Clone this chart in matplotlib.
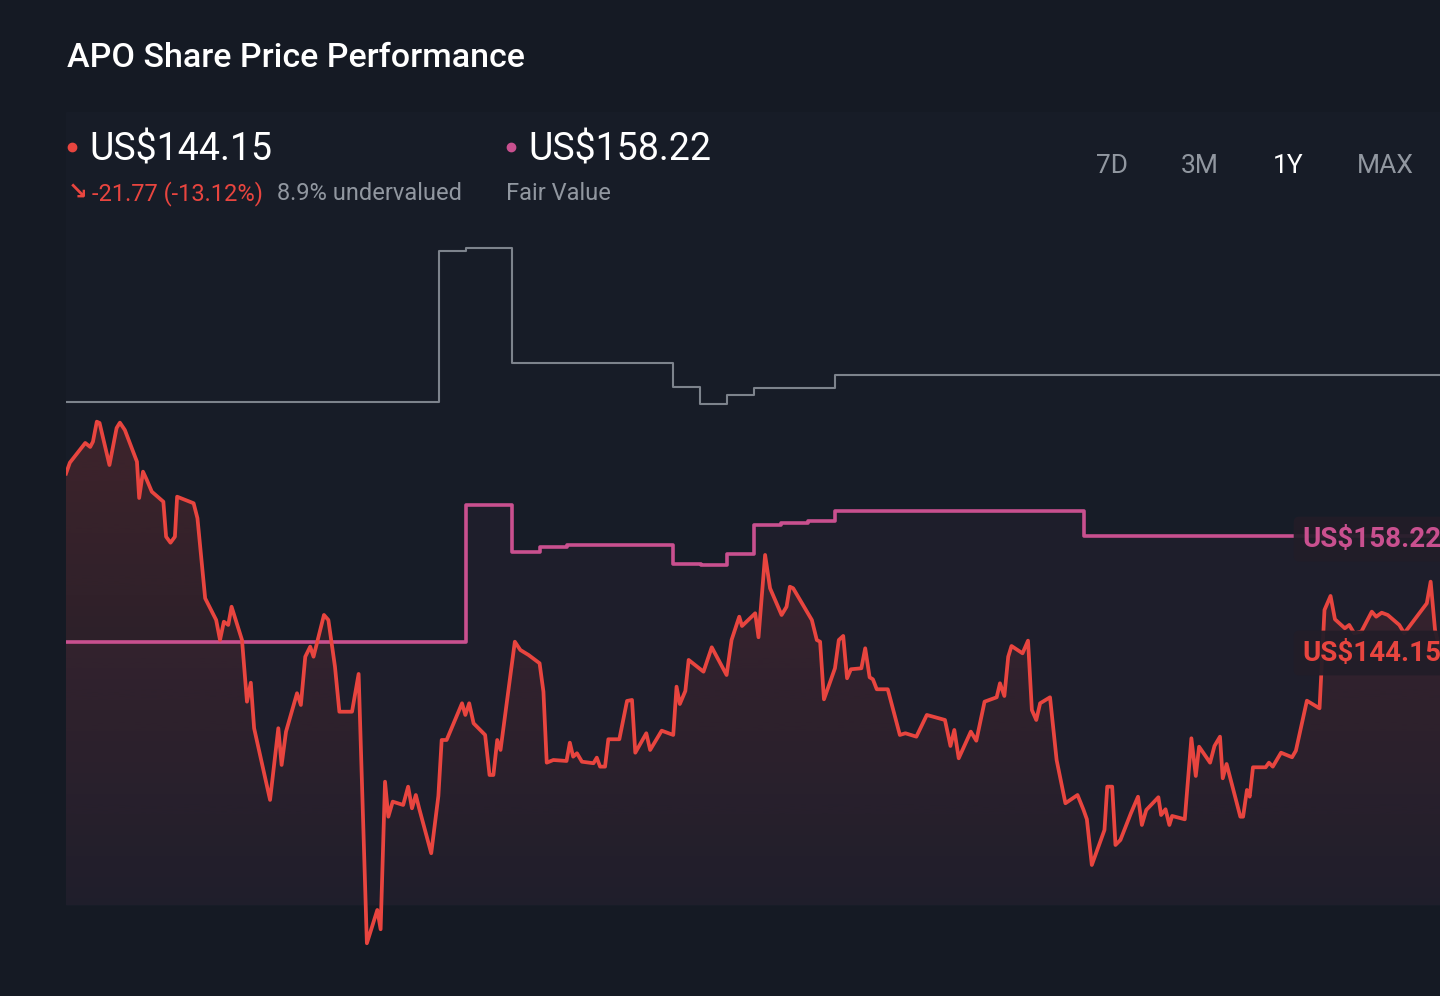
import numpy as np
import matplotlib
matplotlib.use("Agg")
import matplotlib.pyplot as plt
import matplotlib.transforms as mtransforms
from matplotlib.patches import Polygon, Rectangle
from matplotlib.lines import Line2D
from matplotlib.colors import to_rgb

plt.rcParams['font.family'] = ['Roboto', 'DejaVu Sans']

# share price (trading day index, US$)
days = [0, 0.7, 3.5, 4.4, 4.9, 5.6, 6.1, 7.9, 9.2, 9.8,
        10.7, 12.9, 13.3, 14.0, 14.7, 15.6, 17.7, 18.2, 19.0, 19.8,
        20.2, 23.2, 23.9, 25.3, 27.3, 28.0, 28.7, 29.5, 30.1, 32.0,
        32.9, 33.6, 34.2, 37.1, 38.6, 39.2, 40.0, 42.0, 42.7, 43.5,
        44.4, 45.0, 46.9, 47.7, 48.9, 49.7, 52.0, 53.2, 54.7, 56.6,
        57.2, 58.0, 58.6, 59.4, 61.3, 62.2, 62.9, 63.6, 64.2, 66.4,
        67.7, 68.3, 69.2, 72.0, 72.6, 73.3, 74.1, 76.2, 77.0, 77.7,
        78.4, 79.0, 81.6, 82.6, 84.1, 86.1, 86.8, 87.4, 88.6, 91.0,
        91.6, 92.2, 92.9, 93.8, 95.9, 96.5, 97.1, 98.0, 98.6, 100.6,
        102.0, 102.9, 103.5, 105.5, 106.2, 108.3, 110.4, 111.0, 111.6, 112.6,
        113.2, 115.9, 117.4, 120.1, 121.0, 122.4, 122.9, 125.3, 125.9, 127.1,
        128.0, 130.1, 131.0, 131.6, 132.2, 135.6, 136.5, 137.1, 137.8, 139.8,
        140.5, 141.3, 142.0, 142.7, 144.6, 145.3, 146.1, 146.7, 147.4, 149.4,
        151.6, 152.6, 154.6, 156.5, 159.8, 160.8, 161.5, 162.3, 164.5, 165.5,
        167.0, 169.2, 169.8, 170.6, 171.3, 171.9, 173.9, 174.9, 175.6, 176.4,
        177.1, 178.9, 180.1, 181.7, 183.9, 185.0, 185.6, 186.5, 188.8, 189.3,
        190.2, 190.8, 191.7, 193.6, 194.9, 195.6, 196.4, 198.6, 199.1, 199.9,
        200.6, 201.1, 203.4, 204.6, 205.4, 206.0, 208.0, 208.8, 209.8, 210.3,
        211.0, 213.5, 214.0, 214.7, 215.2, 215.8, 218.1, 218.7, 219.4, 220.9,
        222.9, 223.6, 225.6, 227.9, 228.8, 229.9, 230.7, 232.5, 233.3, 234.2,
        235.5, 237.4, 238.2, 239.2, 240.3, 242.4, 243.3, 247.4, 248.1, 248.9,
        249.8]
prices = [165.92, 167.27, 169.70, 169.21, 169.86, 172.33, 172.17, 166.98, 171.55, 172.21,
          171.30, 167.39, 162.91, 166.16, 165.13, 163.69, 162.45, 158.13, 157.39, 158.13,
          163.07, 162.26, 160.41, 150.53, 147.85, 145.38, 147.64, 147.24, 149.49, 145.38,
          137.77, 140.11, 134.49, 125.64, 134.49, 129.96, 134.07, 138.81, 137.36, 143.32,
          144.56, 143.32, 148.47, 147.85, 142.09, 136.53, 136.53, 141.19, 107.95, 112.06,
          109.68, 127.89, 123.57, 125.43, 125.02, 127.28, 124.61, 126.25, 124.61, 119.06,
          126.13, 133.04, 133.04, 137.57, 136.13, 137.57, 135.10, 133.66, 128.72, 128.72,
          133.04, 131.81, 145.17, 144.15, 143.53, 142.51, 139.00, 130.24, 130.57, 130.45,
          132.71, 130.98, 131.40, 130.36, 130.17, 130.86, 129.75, 129.75, 133.13, 133.13,
          137.86, 137.98, 131.47, 133.87, 131.81, 134.19, 133.66, 139.62, 137.48, 139.09,
          142.92, 141.47, 144.48, 141.06, 145.38, 148.26, 147.11, 148.68, 145.72, 155.88,
          151.77, 148.47, 149.49, 151.96, 151.77, 147.85, 145.38, 145.17, 138.06, 141.89,
          145.38, 145.88, 140.66, 141.77, 141.89, 144.36, 140.78, 140.53, 139.30, 139.30,
          133.66, 133.87, 133.45, 136.13, 135.51, 132.30, 134.28, 130.78, 134.07, 132.95,
          137.77, 138.31, 140.04, 138.47, 143.32, 144.64, 143.74, 145.30, 136.74, 135.51,
          137.57, 138.31, 130.57, 125.23, 126.25, 124.40, 123.25, 117.61, 121.93, 127.28,
          127.28, 120.08, 120.70, 123.99, 126.04, 122.55, 124.40, 125.97, 123.78, 124.49,
          122.55, 123.66, 123.25, 133.25, 128.60, 132.21, 130.24, 132.30, 133.45, 128.31,
          130.08, 123.57, 123.57, 126.87, 126.04, 129.67, 129.67, 130.24, 129.75, 131.47,
          130.91, 131.72, 137.89, 136.95, 149.09, 150.82, 147.94, 146.83, 147.24, 146.21,
          146.41, 148.88, 148.26, 148.75, 148.47, 147.24, 146.21, 149.91, 152.58, 146.62,
          144.15]

# fair value estimate (steps)
fv_days = [0, 72.7, 81.0, 86.1, 91.0, 110.4, 115.5, 120.2, 125.1, 129.9, 134.9, 139.8, 185.1, 249.8]
fv_vals = [145.14, 162.01, 156.28, 156.90, 157.07, 154.77, 154.60, 156.00, 159.62, 159.79,
           160.07, 161.34, 158.22, 158.22]

# upper grey line (steps)
hi_days = [0, 67.9, 72.7, 81.1, 110.4, 115.3, 120.2, 125.1, 139.8, 249.8]
hi_vals = [174.76, 193.44, 193.81, 179.54, 176.58, 174.48, 175.63, 176.49, 178.09, 178.09]

ticker = "APO"
change = -21.77
change_pct = -13.12
undervalued = 8.9
periods = ["7D", "3M", "1Y", "MAX"]
active_period = "1Y"

BG = '#151a24'
PANEL = '#171c27'
RED = '#e8453f'
PINK = '#c9508f'
GREY = '#7d838c'
TXT_GREY = '#9197a0'

W, H = 1440, 996
fig = plt.figure(figsize=(W / 100, H / 100), dpi=100, facecolor=BG)


def fx(x):
    return x / W


def fy(y):
    return 1 - y / H


fig.patches.append(Rectangle((fx(66), fy(905)), fx(W - 66), (905 - 112) / H,
                             transform=fig.transFigure, color=PANEL, zorder=-5))

ax = fig.add_axes([fx(66), fy(955), fx(W - 66), (955 - 215) / H])
ax.set_facecolor('none')
ax.set_zorder(1)
ymin, ymax = 106.5, 197.84
y_lo = 112.7

# gradient under the price line
yy = np.linspace(ymin, ymax, 400)
alpha = np.clip((yy - 109.6) / (168.8 - 109.6), 0, 1.1) * 0.18
rgba = np.zeros((400, 1, 4))
rgba[..., :3] = to_rgb(RED)
rgba[..., 3] = alpha[:, None]
im = ax.imshow(rgba, extent=[0, days[-1], ymin, ymax], origin='lower',
               aspect='auto', zorder=1, interpolation='bilinear')
clip = Polygon(np.column_stack([np.r_[days[0], days, days[-1]],
                                np.r_[y_lo, prices, y_lo]]),
               closed=True, fc='none', ec='none', transform=ax.transData)
ax.add_patch(clip)
im.set_clip_path(clip)

ax.fill_between(fv_days, fv_vals, y_lo, step='post', color=PINK, alpha=0.045, lw=0, zorder=1)

ax.step(hi_days, hi_vals, where='post', color=GREY, lw=1.5, zorder=2)
ax.step(fv_days, fv_vals, where='post', color=PINK, lw=2.6, zorder=3)
ax.plot(days, prices, color=RED, lw=2.7, zorder=4)

ax.set_xlim(0, days[-1])
ax.set_ylim(ymin, ymax)
ax.axis('off')

# end labels
trans = mtransforms.blended_transform_factory(ax.transAxes, ax.transData)
box = dict(boxstyle='round,pad=0.32,rounding_size=0.2', fc='#221d28', ec='none', alpha=0.94)
for val, col in [(fv_vals[-1], PINK), (prices[-1], RED)]:
    ax.annotate(f"US${val:.2f}", xy=(0.9, val), xycoords=trans,
                xytext=(0, -2.2), textcoords='offset points', color=col,
                fontsize=20, fontweight='bold', va='center', ha='left', bbox=box,
                zorder=6, annotation_clip=False)

# header
fig.text(fx(67), fy(67), f"{ticker} Share Price Performance", color='white',
         fontsize=24.5, fontweight='medium', va='baseline')

fig.add_artist(Line2D([fx(72)], [fy(147)], marker='o', ms=6, color=RED,
                      transform=fig.transFigure, lw=0))
fig.text(fx(89), fy(160), f"US${prices[-1]:.2f}", color='white', fontsize=27, va='baseline')
fig.text(fx(68), fy(200), "↘", color=RED, fontsize=17, va='baseline', fontweight='bold')
fig.text(fx(92), fy(200), f"{change:.2f} ({change_pct:.2f}%)", color=RED, fontsize=17,
         va='baseline')
fig.text(fx(277), fy(200), f"{undervalued}% undervalued", color=TXT_GREY, fontsize=17,
         va='baseline')

fig.add_artist(Line2D([fx(511)], [fy(147)], marker='o', ms=6, color=PINK,
                      transform=fig.transFigure, lw=0))
fig.text(fx(528), fy(160), f"US${fv_vals[-1]:.2f}", color='white', fontsize=27, va='baseline')
fig.text(fx(506), fy(200), "Fair Value", color=TXT_GREY, fontsize=17, va='baseline')

for label, xc in zip(periods, [1112, 1200, 1288, 1385]):
    col = 'white' if label == active_period else TXT_GREY
    fig.text(fx(xc), fy(173), label, color=col, fontsize=19, ha='center', va='baseline')

fig.savefig("out.png", dpi=100, facecolor=BG)
